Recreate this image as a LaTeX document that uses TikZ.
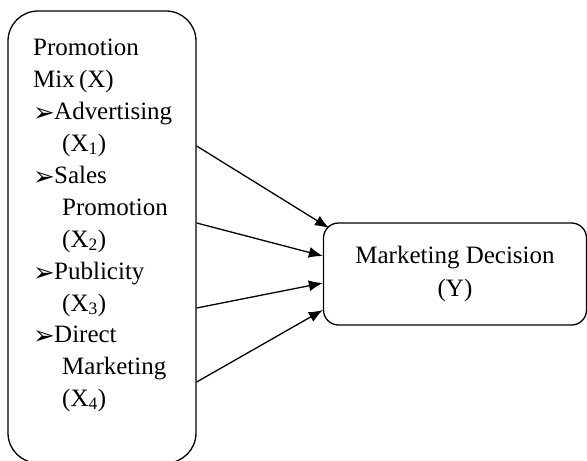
\documentclass[tikz,border=0pt]{standalone}
\usepackage{fontspec}
\setmainfont{Liberation Serif}
\newfontfamily\symfont{DejaVu Sans}
\usetikzlibrary{arrows.meta}
\tikzset{
  box/.style={draw=black, line width=1.3pt, rounded corners=#1, inner sep=0pt},
  txt/.style={anchor=base west, inner sep=0pt, font=\fontsize{25}{32}\selectfont},
  bul/.style={anchor=base west, inner sep=0pt, font=\symfont\fontsize{26}{26}\selectfont},
  arr/.style={-{Latex[length=14pt,width=11pt]}, line width=1.3pt}
}
\newcommand{\sbx}[1]{\textsubscript{#1}}
\begin{document}
\begin{tikzpicture}[x=1pt,y=-1pt]
\useasboundingbox (0,0) rectangle (587,461);
% boxes
\node[box=30pt, minimum width=188pt, minimum height=452pt] (L) at (102,237) {};
\node[box=15pt, minimum width=263pt, minimum height=102pt, font=\fontsize{25}{33}\selectfont, align=center] (R) at (455,274) {Marketing Decision\\(Y)};
% left texts
\node[txt] (t1) at (33,55) {Promotion};
\node[txt] (t2) at (33,87) {Mix\,(X)};
\node[bul] (b1) at (33,121) {➢};
\node[txt] (t3) at (54,119) {Advertising};
\node[txt] (t4) at (62,151) {(X\sbx{1})};
\node[bul] (b2) at (33,185) {➢};
\node[txt] (t5) at (54,183) {Sales};
\node[txt] (t6) at (62,215) {Promotion};
\node[txt] (t7) at (62,247) {(X\sbx{2})};
\node[bul] (b3) at (33,281) {➢};
\node[txt] (t8) at (54,279) {Publicity};
\node[txt] (t9) at (62,311) {(X\sbx{3})};
\node[bul] (b4) at (33,344) {➢};
\node[txt] (t10) at (54,342) {Direct};
\node[txt] (t11) at (62,374) {Marketing};
\node[txt] (t12) at (62,406) {(X\sbx{4})};
% connector points
\coordinate (s1) at (L.east |- 0,146);
\coordinate (s2) at (L.east |- 0,223);
\coordinate (s3) at (L.east |- 0,308);
\coordinate (s4) at (L.east |- 0,382);
\coordinate (e1) at (329,228);
\coordinate (e2) at (R.west |- 0,256);
\coordinate (e3) at (R.west |- 0,283);
\coordinate (e4) at (R.west |- 0,310);
\draw[arr] (s1) -- (e1);
\draw[arr] (s2) -- (e2);
\draw[arr] (s3) -- (e3);
\draw[arr] (s4) -- (e4);
\end{tikzpicture}
\end{document}
